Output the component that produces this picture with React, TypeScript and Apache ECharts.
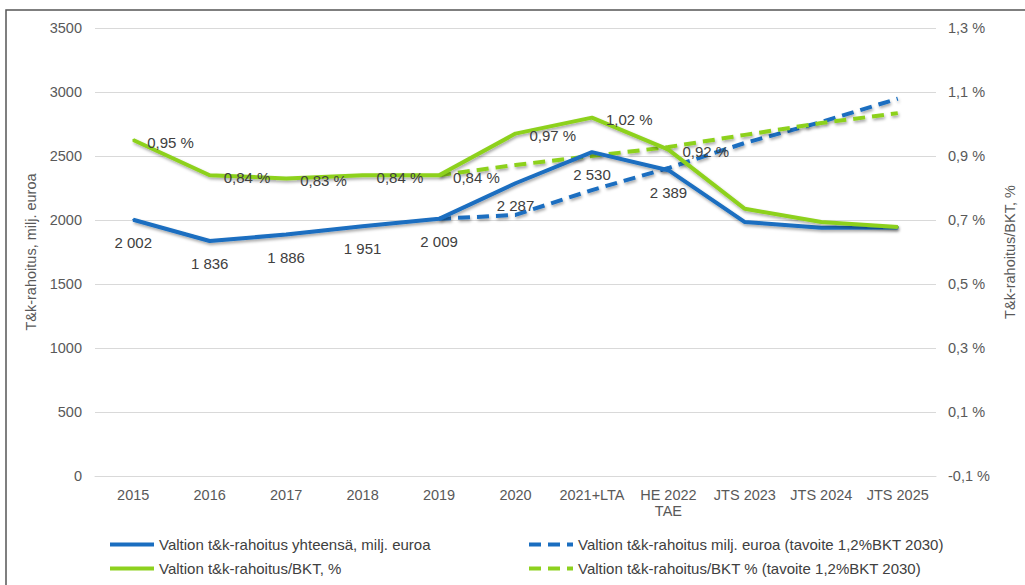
import React, { useEffect, useRef } from "react";
import * as echarts from "echarts";

const categories = ["2015", "2016", "2017", "2018", "2019", "2020", "2021+LTA", "HE 2022\nTAE", "JTS 2023", "JTS 2024", "JTS 2025"];
const fundingTotal = [2002, 1836, 1886, 1951, 2009, 2287, 2530, 2389, 1984, 1940, 1942];
const fundingTarget = [null, null, null, null, 2009, 2040, 2234, 2406, 2602, 2766, 2948];
const gdpShare = [0.95, 0.84, 0.83, 0.84, 0.84, 0.97, 1.02, 0.92, 0.735, 0.694, 0.678];
const gdpShareTarget = [null, null, null, null, 0.84, 0.872, 0.9, 0.928, 0.966, 1.003, 1.034];
const labelledCount = 8;

const names = [
  "Valtion t&k-rahoitus yhteensä, milj. euroa",
  "Valtion t&k-rahoitus milj. euroa (tavoite 1,2%BKT 2030)",
  "Valtion t&k-rahoitus/BKT, %",
  "Valtion t&k-rahoitus/BKT % (tavoite 1,2%BKT 2030)",
];

const BLUE = "#1A6EC0";
const GREEN = "#8DD11E";
const FONT = "Liberation Sans, Arial, sans-serif";
const TXT = "#595959";
const LBL = "#404040";

export default function App() {
  const ref = useRef<HTMLDivElement>(null);
  useEffect(() => {
    if (!ref.current) return;
    const chart = echarts.init(ref.current, null, { renderer: "svg" });
    const shadow = { shadowColor: "rgba(0,0,0,0.35)", shadowBlur: 3, shadowOffsetX: 1, shadowOffsetY: 2 };
    const legendBase = {
      orient: "horizontal" as const,
      itemWidth: 44,
      itemHeight: 14,
      itemGap: 2,
      padding: 0,
      itemStyle: { opacity: 0 },
      lineStyle: { width: 4 },
      textStyle: { color: LBL, fontSize: 15, fontFamily: FONT },
    };
    chart.setOption({
      animation: false,
      backgroundColor: "#fff",
      textStyle: { fontFamily: FONT },
      graphic: [
        {
          type: "rect",
          shape: { x: 6, y: 10, width: 1040, height: 600 },
          style: { fill: "none", stroke: "#555", lineWidth: 1.5 },
          silent: true,
        },
      ],
      grid: { left: 95, right: 87, top: 28, bottom: 109 },
      legend: [
        { ...legendBase, data: [names[0]], left: 108, top: 537 },
        { ...legendBase, data: [names[1]], left: 527, top: 537 },
        { ...legendBase, data: [names[2]], left: 108, top: 561 },
        { ...legendBase, data: [names[3]], left: 527, top: 561 },
      ],
      xAxis: {
        type: "category",
        data: categories,
        boundaryGap: true,
        axisLine: { show: true, lineStyle: { color: "#d9d9d9" } },
        axisTick: { show: false },
        axisLabel: { color: TXT, fontSize: 14.5, fontFamily: FONT, interval: 0, margin: 11, lineHeight: 16 },
      },
      yAxis: [
        {
          type: "value",
          min: 0,
          max: 3500,
          interval: 500,
          name: "T&k-rahoitus, milj. euroa",
          nameLocation: "middle",
          nameRotate: 90,
          nameGap: 55,
          nameTextStyle: { color: TXT, fontSize: 14.5, fontFamily: FONT },
          axisLine: { show: false },
          axisTick: { show: false },
          axisLabel: { color: TXT, fontSize: 14.5, fontFamily: FONT, margin: 13, formatter: (v: number) => String(v) },
          splitLine: { lineStyle: { color: "#d9d9d9", width: 1 } },
        },
        {
          type: "value",
          min: -0.1,
          max: 1.3,
          interval: 0.2,
          position: "right",
          name: "T&k-rahoitus/BKT, %",
          nameLocation: "middle",
          nameRotate: 90,
          nameGap: 66,
          nameTextStyle: { color: TXT, fontSize: 14.5, fontFamily: FONT },
          axisLine: { show: false },
          axisTick: { show: false },
          splitLine: { show: false },
          axisLabel: {
            color: TXT,
            fontSize: 14.5,
            fontFamily: FONT,
            margin: 12,
            formatter: (v: number) => v.toFixed(1).replace(".", ",") + " %",
          },
        },
      ],
      series: [
        {
          name: names[0],
          type: "line",
          yAxisIndex: 0,
          data: fundingTotal,
          symbol: "circle",
          symbolSize: 2,
          showSymbol: true,
          lineStyle: { color: BLUE, width: 4, ...shadow },
          itemStyle: { color: BLUE },
          label: {
            show: true,
            position: "bottom",
            distance: 14,
            color: LBL,
            fontSize: 15,
            fontFamily: FONT,
            formatter: (p: any) =>
              p.dataIndex < labelledCount ? String(p.value).replace(/\B(?=(\d{3})+(?!\d))/g, " ") : "",
          },
          z: 3,
        },
        {
          name: names[1],
          type: "line",
          yAxisIndex: 0,
          data: fundingTarget,
          symbol: "none",
          lineStyle: { color: BLUE, width: 4, type: [12, 7], ...shadow },
          itemStyle: { color: BLUE },
          z: 2,
        },
        {
          name: names[2],
          type: "line",
          yAxisIndex: 1,
          data: gdpShare,
          symbol: "circle",
          symbolSize: 2,
          showSymbol: true,
          lineStyle: { color: GREEN, width: 4, ...shadow },
          itemStyle: { color: GREEN },
          label: {
            show: true,
            position: "right",
            distance: 13,
            offset: [0, 2],
            color: LBL,
            fontSize: 15,
            fontFamily: FONT,
            formatter: (p: any) =>
              p.dataIndex < labelledCount ? p.value.toFixed(2).replace(".", ",") + " %" : "",
          },
          z: 4,
        },
        {
          name: names[3],
          type: "line",
          yAxisIndex: 1,
          data: gdpShareTarget,
          symbol: "none",
          lineStyle: { color: GREEN, width: 4, type: [12, 7], ...shadow },
          itemStyle: { color: GREEN },
          z: 2,
        },
      ],
    });
    return () => chart.dispose();
  }, []);
  return (
    <div
      ref={ref}
      style={{ position: "fixed", left: 0, top: 0, width: 1025, height: 585, background: "#fff" }}
    />
  );
}
